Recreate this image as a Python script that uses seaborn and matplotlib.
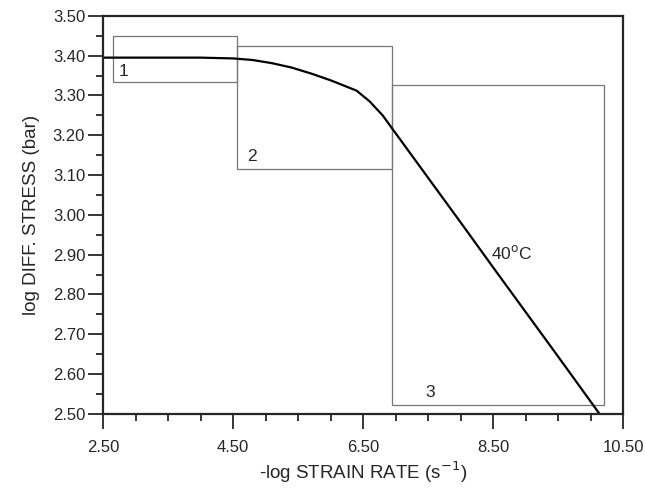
import matplotlib
matplotlib.use('Agg')
import matplotlib.pyplot as plt
from matplotlib.patches import Rectangle
from matplotlib.ticker import MultipleLocator
import seaborn as sns
import pandas as pd

# flow curve at 40 C
strain_rate = [2.5, 3.0, 3.5, 4.0, 4.5, 4.8, 5.1, 5.4, 5.7, 6.0, 6.2, 6.4, 6.6,
               6.8, 7.0, 7.5, 8.0, 8.5, 9.0, 9.5, 10.0, 10.15]
stress = [3.395, 3.395, 3.395, 3.395, 3.393, 3.389, 3.381, 3.370, 3.355, 3.338,
          3.325, 3.312, 3.285, 3.250, 3.205, 3.093, 2.981, 2.868, 2.756, 2.644,
          2.531, 2.497]

x_ticks = [2.5, 4.5, 6.5, 8.5, 10.5]
x_ticklabels = ['2.50', '4.50', '6.50', '8.50', '10.50']

# regime boxes: x0, x1, y0, y1
box_labels = ['1', '2', '3']
box_x0 = [2.65, 4.56, 6.94]
box_x1 = [4.56, 6.94, 10.20]
box_y0 = [3.335, 3.115, 2.523]
box_y1 = [3.450, 3.423, 3.325]
label_x = [2.82, 4.79, 7.53]
label_y = [3.36, 3.146, 2.553]

sns.set_style("ticks")
plt.rcParams['font.family'] = ['Liberation Sans', 'DejaVu Sans']

fig = plt.figure(figsize=(6.45, 4.95), dpi=100)
ax = fig.add_axes([0.160, 0.164, 0.806, 0.804])

df = pd.DataFrame({'rate': strain_rate, 'stress': stress})
sns.lineplot(data=df, x='rate', y='stress', color='black', lw=1.6, ax=ax)

for i in range(len(box_labels)):
    ax.add_patch(Rectangle((box_x0[i], box_y0[i]), box_x1[i] - box_x0[i],
                           box_y1[i] - box_y0[i], fill=False,
                           edgecolor='#777777', lw=0.9))
    ax.text(label_x[i], label_y[i], box_labels[i], fontsize=12.5, ha='center', va='center')

ax.text(8.79, 2.905, '40$^{\\mathrm{o}}$C', fontsize=12.5, ha='center', va='center')

ax.set_xlim(2.5, 10.5)
ax.set_ylim(2.5, 3.5)
ax.set_xticks(x_ticks)
ax.set_xticklabels(x_ticklabels)
ax.xaxis.set_minor_locator(MultipleLocator(0.5))
ax.yaxis.set_major_locator(MultipleLocator(0.1))
ax.yaxis.set_minor_locator(MultipleLocator(0.05))
ax.yaxis.set_major_formatter('{x:.2f}')
ax.tick_params(which='major', length=11, width=1.3, labelsize=12, direction='out')
ax.tick_params(which='minor', length=5, width=1.3, direction='out')
ax.tick_params(axis='x', which='major', pad=8)
ax.tick_params(axis='y', which='major', pad=2)

for s in ax.spines.values():
    s.set_linewidth(1.6)
    s.set_visible(True)

ax.set_xlabel('-log STRAIN RATE (s$^{-1}$)', fontsize=13.5, labelpad=3)
ax.set_ylabel('log DIFF. STRESS (bar)', fontsize=13.5, labelpad=9)

fig.savefig('out.png', dpi=100)
